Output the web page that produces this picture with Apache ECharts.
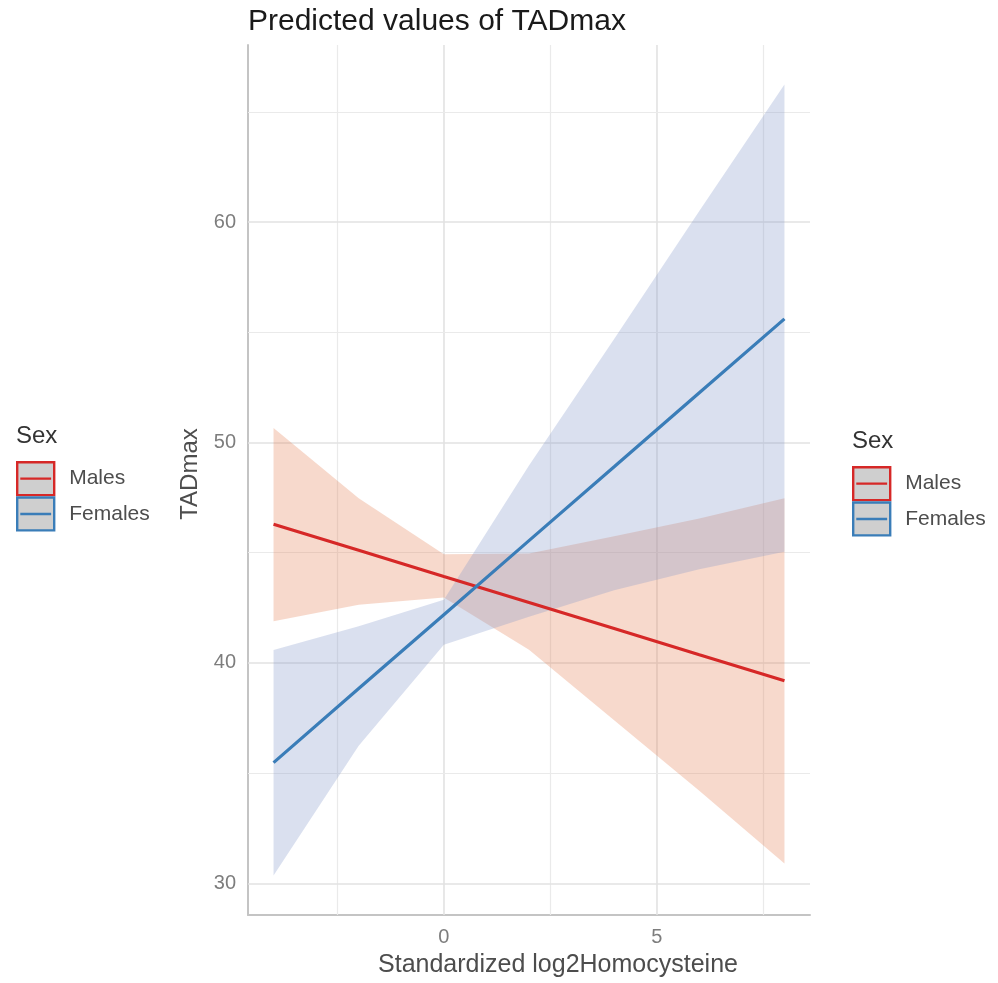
<!DOCTYPE html>
<html>
<head>
<meta charset="utf-8">
<script src="https://cdn.jsdelivr.net/npm/echarts@6/dist/echarts.min.js"></script>
<style>
html, body { margin: 0; padding: 0; background: #ffffff; }
#chart { width: 998px; height: 983px; }
</style>
</head>
<body>
<div id="chart"></div>
<script>
// ---- data ----
const xValues = [-4, -2, 0, 2, 4, 6, 8];
const malesFit = [46.29, 45.11, 43.92, 42.74, 41.56, 40.37, 39.19];
const malesLow = [41.89, 42.64, 42.97, 40.6, 37.4, 34.2, 30.9];
const malesHigh = [50.66, 47.47, 44.93, 44.97, 45.75, 46.55, 47.47];
const femalesFit = [35.48, 38.84, 42.19, 45.55, 48.9, 52.26, 55.61];
const femalesLow = [30.36, 36.24, 40.83, 42.1, 43.3, 44.25, 45.05];
const femalesHigh = [40.59, 41.67, 42.87, 48.96, 54.7, 60.5, 66.24];
const groups = ['Males', 'Females'];
const xMajorTicks = [0, 5];
const xMinorTicks = [-2.5, 2.5, 7.5];
const yMajorTicks = [30, 40, 50, 60];
const yMinorTicks = [35, 45, 55, 65];

// ---- styling ----
const FONT = "'Liberation Sans', Arial, Helvetica, sans-serif";
const lineColors = ['#D62827', '#3A7DB8'];
const bandColors = ['rgba(228,128,85,0.30)', 'rgba(132,152,202,0.30)'];

function pairs(xs, ys) { return xs.map((x, i) => [x, ys[i]]); }
function bandRows(lo, hi) { return xValues.map((x, i) => [x, lo[i], hi[i]]); }

function bandRenderer(lo, hi, color) {
  return function (params, api) {
    if (params.dataIndex !== 0) return null;
    const top = xValues.map((x, i) => api.coord([x, hi[i]]));
    const bottom = xValues.map((x, i) => api.coord([x, lo[i]])).reverse();
    return {
      type: 'polygon',
      shape: { points: top.concat(bottom) },
      style: { fill: color },
      silent: true
    };
  };
}

const gridLines = [].concat(
  xMajorTicks.map(v => ({ xAxis: v, lineStyle: { color: '#e2e2e2', width: 1.6, type: 'solid', opacity: 1 } })),
  xMinorTicks.map(v => ({ xAxis: v, lineStyle: { color: '#eaeaea', width: 1.2, type: 'solid', opacity: 1 } })),
  yMajorTicks.map(v => ({ yAxis: v, lineStyle: { color: '#e2e2e2', width: 1.6, type: 'solid', opacity: 1 } })),
  yMinorTicks.map(v => ({ yAxis: v, lineStyle: { color: '#eaeaea', width: 1.2, type: 'solid', opacity: 1 } }))
);

const legendData = groups.map((g, i) => ({
  name: g,
  itemStyle: { color: '#cfcfcf', borderColor: lineColors[i], borderWidth: 2.4 }
}));

function makeLegend(left, top) {
  return {
    left: left, top: top, orient: 'vertical', padding: 0, itemGap: 0,
    itemWidth: 37, itemHeight: 33,
    icon: 'path://M0,0H36V32H0Z M3,16H33',
    selectedMode: false,
    data: legendData,
    textStyle: { fontFamily: FONT, fontSize: 21, color: '#4d4d4d', padding: [0, 0, 0, 10] }
  };
}

const option = {
  animation: false,
  backgroundColor: '#ffffff',
  title: [
    { text: 'Predicted values of TADmax', left: 248, top: 7, padding: 0,
      textStyle: { fontFamily: FONT, fontSize: 30, fontWeight: 'normal', color: '#1a1a1a' } },
    { text: 'Sex', left: 16, top: 424, padding: 0,
      textStyle: { fontFamily: FONT, fontSize: 24, fontWeight: 'normal', color: '#333333' } },
    { text: 'Sex', left: 852, top: 429, padding: 0,
      textStyle: { fontFamily: FONT, fontSize: 24, fontWeight: 'normal', color: '#333333' } }
  ],
  legend: [makeLegend(16, 461), makeLegend(852, 466)],
  grid: { left: 248, right: 188, top: 45, bottom: 65, containLabel: false },
  xAxis: {
    type: 'value', min: -4.6, max: 8.6,
    name: 'Standardized log2Homocysteine', nameLocation: 'middle', nameGap: 38,
    nameTextStyle: { fontFamily: FONT, fontSize: 25, color: '#4d4d4d', padding: [0, 0, 0, 58] },
    axisLine: { show: true, onZero: false, lineStyle: { color: '#c4c4c4', width: 2 } },
    axisTick: { show: false },
    splitLine: { show: false },
    axisLabel: { customValues: xMajorTicks, fontFamily: FONT, fontSize: 20, color: '#7d7d7d', margin: 12 }
  },
  yAxis: {
    type: 'value', min: 28.566, max: 68.034,
    name: 'TADmax', nameLocation: 'middle', nameGap: 39,
    nameTextStyle: { fontFamily: FONT, fontSize: 24, color: '#4d4d4d', padding: [0, 0, 0, 12] },
    axisLine: { show: true, onZero: false, lineStyle: { color: '#c4c4c4', width: 2 } },
    axisTick: { show: false },
    splitLine: { show: false },
    axisLabel: { customValues: yMajorTicks, fontFamily: FONT, fontSize: 20, color: '#7d7d7d', margin: 12 }
  },
  series: [
    { name: 'Males CI', type: 'custom', z: 2, silent: true,
      data: bandRows(malesLow, malesHigh), encode: { x: 0, y: [1, 2] },
      renderItem: bandRenderer(malesLow, malesHigh, bandColors[0]),
      markLine: { z: 1, silent: true, symbol: ['none', 'none'], label: { show: false }, data: gridLines, animation: false }
    },
    { name: 'Females CI', type: 'custom', z: 2, silent: true,
      data: bandRows(femalesLow, femalesHigh), encode: { x: 0, y: [1, 2] },
      renderItem: bandRenderer(femalesLow, femalesHigh, bandColors[1]) },
    { name: 'Males', type: 'line', z: 3, data: pairs(xValues, malesFit),
      showSymbol: false, symbol: 'none', color: lineColors[0],
      lineStyle: { color: lineColors[0], width: 3.2 } },
    { name: 'Females', type: 'line', z: 3, data: pairs(xValues, femalesFit),
      showSymbol: false, symbol: 'none', color: lineColors[1],
      lineStyle: { color: lineColors[1], width: 3.2 } }
  ]
};

const chart = echarts.init(document.getElementById('chart'), null, { renderer: 'canvas' });
chart.setOption(option);
</script>
</body>
</html>
